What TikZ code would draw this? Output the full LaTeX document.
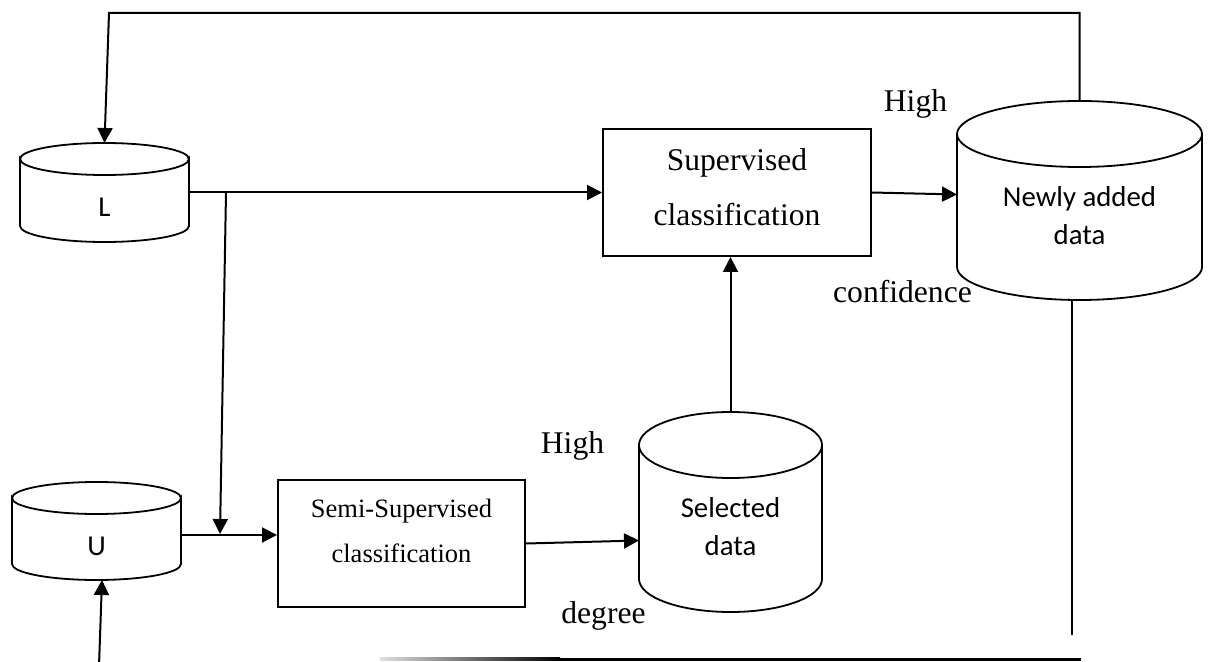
\documentclass[tikz,border=0pt]{standalone}
\usepackage{fontspec}
\setmainfont{Liberation Serif}
\newfontfamily\carl{Carlito}
\usetikzlibrary{arrows.meta,calc}
\newcommand\drawcyl[2]{%
  \draw[cylline] let \p1=(#1.north west), \p2=(#1.south east), \n1={(\x2-\x1)/2} in
    ({\x1},{\y1-#2}) arc[start angle=180,end angle=360,x radius=\n1,y radius=#2]
    -- ({\x2},{\y2+#2}) arc[start angle=0,end angle=-180,x radius=\n1,y radius=#2] -- cycle
    ({\x1},{\y1-#2}) arc[start angle=180,end angle=0,x radius=\n1,y radius=#2];
}
\tikzset{
  ln/.style={line width=1pt},
  arr/.style={line width=1pt,-{Triangle[length=7.5pt,width=7.5pt]}},
  cylline/.style={line width=0.9pt},
  proc/.style={draw,line width=1pt,inner sep=0pt},
  db/.style={inner sep=0pt,outer sep=0pt},
  dbtext/.style={font=\carl\fontsize{14.4}{19}\selectfont,align=center,inner sep=0pt,yshift=-7.5pt},
  bigtext/.style={font=\fontsize{15.8}{27.5}\selectfont,align=center,inner sep=0pt},
  smalltext/.style={font=\fontsize{13.25}{22.5}\selectfont,align=center,inner sep=0pt},
  lbl/.style={font=\fontsize{15.8}{19}\selectfont,inner sep=0pt}
}
\begin{document}
\begin{tikzpicture}[x=0.5pt,y=0.5pt]
\useasboundingbox (0,0) rectangle (1213,-662);
% storages
\node[db,minimum width=84.5pt,minimum height=49.5pt,label={[dbtext]center:L}] (L) at (104.5,-192.5) {};
\node[db,minimum width=84.5pt,minimum height=49pt,label={[dbtext]center:U}] (U) at (96.5,-531) {};
\node[db,minimum width=91.5pt,minimum height=100pt,label={[dbtext]center:{Selected\\data}}] (Sel) at (730.5,-512) {};
\node[db,minimum width=122.5pt,minimum height=99.5pt,label={[dbtext]center:{Newly added\\data}}] (New) at (1079.5,-200.5) {};
\drawcyl{L}{8pt}
\drawcyl{U}{8pt}
\drawcyl{Sel}{16.5pt}
\drawcyl{New}{16.5pt}
% process boxes
\node[proc,minimum width=134pt,minimum height=63.5pt,label={[bigtext,yshift=2.5pt]center:{Supervised\\classification}}] (Sup) at (737,-192.5) {};
\node[proc,minimum width=123.5pt,minimum height=63.5pt,label={[smalltext,yshift=6.5pt]center:{Semi-Supervised\\classification}}] (Semi) at (401.5,-543.5) {};
% labels
\node[lbl] (h1) at (915.5,-104) {High};
\node[lbl] (c1) at (902.5,-292) {confidence};
\node[lbl] (h2) at (572.5,-446) {High};
\node[lbl] (d1) at (603.5,-616) {degree};
% connectors
\coordinate (j1) at (226,-192.5);
\coordinate (j2) at (220,-534);
\draw[arr] (L.east) -- (Sup.west);
\draw[arr] ([yshift=-2pt]U.east) coordinate (uo) -- (uo -| Semi.west);
\draw[arr] (j1) -- (j2);
\draw[arr] (Semi.east) -- ($(Sel.west |- Semi.east)+(0,3)$);
\draw[arr] (Sel.north) -- (Sel.north |- Sup.south);
\draw[arr] (Sup.east) -- ($(New.west |- Sup.east)+(0,-2)$);
\coordinate (tl) at (109,-13);
\draw[arr] (New.north) |- (tl) -- (L.north);
\coordinate (nb) at (1072,-635);
\draw[ln] ($(New.south)+(-7.5,0)$) -- (nb);
\coordinate (ub) at (99,-666);
\draw[arr] (ub) -- ($(U.south)+(5.5,0)$);
\coordinate (bl) at (560,-659);
\coordinate (br) at (1081,-659);
\shade[left color=gray!25,right color=black] (380,-657.5) rectangle (560,-660.5);
\draw[line width=1.5pt] (bl) -- (br);
\end{tikzpicture}
\end{document}
